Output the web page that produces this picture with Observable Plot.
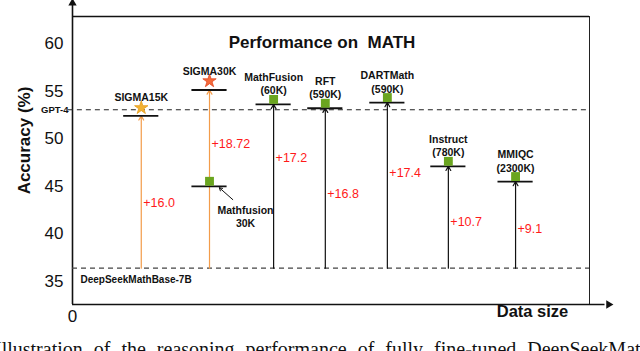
<!DOCTYPE html>
<html>
<head>
<meta charset="utf-8">
<script src="https://cdn.jsdelivr.net/npm/d3@7"></script>
<script src="https://cdn.jsdelivr.net/npm/@observablehq/plot@0.6"></script>
<style>
  html, body { margin: 0; padding: 0; background: #fff; overflow: hidden; }
  #chart { width: 640px; height: 351px; overflow: hidden; }
</style>
</head>
<body>
<div id="chart"></div>
<script>
// ---- data ----
const categories = ["SIGMA15K", "SIGMA30K", "Mathfusion\n30K", "MathFusion\n(60K)", "RFT\n(590K)", "DARTMath\n(590K)", "Instruct\n(780K)", "MMIQC\n(2300K)"];
const dataSizeSlot = [1.33, 2.65, 2.65, 3.89, 4.89, 6.09, 7.27, 8.57];
const accuracy = [52.4, 55.12, 45.0, 53.6, 53.2, 53.8, 47.1, 45.5];
const marker = ["star15", "star30", "square", "square", "square", "square", "square", "square"];
const gainLabels = ["+16.0", "+18.72", null, "+17.2", "+16.8", "+17.4", "+10.7", "+9.1"];
const gainLabelAt = [43.2, 49.4, null, 48.0, 44.2, 46.4, 41.2, 40.5];
const baseAccuracy = 36.4;
const gpt4Accuracy = 53.05;
const yTicks = [35, 40, 45, 50, 55, 60];
const xTicks = [0];
const titleText = "Performance on  MATH";
const captionText = "Illustration of the reasoning performance of fully fine-tuned DeepSeekMath";

const rows = categories.map((c, i) => ({
  name: c, slot: dataSizeSlot[i], acc: accuracy[i], marker: marker[i],
  gain: gainLabels[i], gainAt: gainLabelAt[i]
}));

const Y0 = 32.58, Y1 = 62.84, X0 = 0, X1 = 10;
const HALF = 0.34;
const FONT = "'Liberation Sans', Arial, Helvetica, sans-serif";
const ORANGE = "#f39c4a";
const GREEN = "#6aa51f";

const isMf30 = d => d.name.indexOf("Mathfusion") === 0;
const sigma = d => d.marker.startsWith("star");
const withLine = rows.filter(d => !isMf30(d));

const plot = Plot.plot({
  width: 640,
  height: 351,
  marginLeft: 72,
  marginRight: 51,
  marginTop: 16,
  marginBottom: 47,
  style: { fontFamily: FONT, background: "white", overflow: "visible" },
  x: { domain: [X0, X1], axis: null },
  y: { domain: [Y0, Y1], axis: null },
  marks: [
    // frame & axes
    Plot.ruleY([Y1], { x1: X0, x2: X1, stroke: "#111", strokeWidth: 1.6 }),
    Plot.ruleX([X1], { y1: Y0, y2: Y1, stroke: "#222", strokeWidth: 1 }),
    Plot.ruleY([Y0], { x1: X0, x2: 10.3, stroke: "#111", strokeWidth: 1.6 }),
    Plot.ruleX([X0], { y1: Y0, y2: 64.2, stroke: "#111", strokeWidth: 1.6 }),
    Plot.dot([{ x: X0, y: 64.25 }], { x: "x", y: "y", symbol: "triangle", r: 3.1, fill: "#111", stroke: null }),
    Plot.dot([{ x: 10.37, y: Y0 }], { x: "x", y: "y", symbol: "triangle", r: 3.1, fill: "#111", stroke: null, rotate: 90 }),
    Plot.axisY(yTicks, { tickSize: 0, tickPadding: 9, fontSize: 17, label: null, fill: "#111" }),
    Plot.axisX(xTicks, { tickSize: 0, tickPadding: 5, fontSize: 17, label: null, fill: "#111" }),
    Plot.text(["Accuracy (%)"], { frameAnchor: "left", dx: -48, dy: -20, rotate: -90, textAnchor: "middle", fontSize: 17, fontWeight: "bold", fill: "#111" }),
    Plot.text(["Data size"], { frameAnchor: "bottom-right", dx: -57, dy: 12, textAnchor: "middle", fontSize: 16.5, fontWeight: "bold", fill: "#111" }),
    Plot.text([titleText], { frameAnchor: "top", dx: -9, dy: 19, textAnchor: "middle", fontSize: 17, fontWeight: "bold", fill: "#111" }),

    // reference lines
    Plot.ruleY([baseAccuracy], { x1: X0, x2: X1, stroke: "#444", strokeWidth: 1.1, strokeDasharray: "5,4" }),
    Plot.ruleY([gpt4Accuracy], { x1: -0.08, x2: X1, stroke: "#222", strokeWidth: 1.1, strokeDasharray: "5,4" }),
    Plot.text(["GPT-4"], { x: X0, y: gpt4Accuracy, dx: -4, textAnchor: "end", fontSize: 9.5, fontWeight: "bold", fill: "#111" }),
    Plot.text(["DeepSeekMathBase-7B"], { x: X0, y: baseAccuracy, dx: 8, dy: 12, textAnchor: "start", fontSize: 10, fontWeight: "bold", fill: "#111" }),

    // gain arrows
    Plot.arrow(withLine, {
      x1: "slot", x2: "slot", y1: () => baseAccuracy, y2: "acc",
      stroke: d => sigma(d) ? ORANGE : "#111", strokeWidth: 1.2, headLength: 6
    }),

    // level bars
    Plot.ruleY(rows, { y: "acc", x1: d => d.slot - HALF, x2: d => d.slot + HALF, stroke: "#111", strokeWidth: 1.8 }),

    // markers
    Plot.dot(rows.filter(d => d.marker === "square"), { x: "slot", y: "acc", dy: -5, symbol: "square", r: 5, fill: GREEN, stroke: null }),
    Plot.dot(rows.filter(d => d.marker === "star15"), { x: "slot", y: "acc", dy: -8, symbol: "star", r: 4.2, fill: "#f2b233", stroke: "#e39b1c", strokeWidth: 0.8 }),
    Plot.dot(rows.filter(d => d.marker === "star30"), { x: "slot", y: "acc", dy: -9, symbol: "star", r: 4.2, fill: "#f36b3c", stroke: "#e4461f", strokeWidth: 0.8 }),

    // name labels
    Plot.text(rows.filter(sigma), { x: "slot", y: "acc", text: "name", dy: -15, lineAnchor: "bottom", fontSize: 10.5, fontWeight: "bold", fill: "#111" }),
    Plot.text(rows.filter(d => !sigma(d) && !isMf30(d)), { x: "slot", y: "acc", text: "name", dy: -10, lineAnchor: "bottom", fontSize: 10.5, fontWeight: "bold", fill: "#111", lineHeight: 1.25 }),
    Plot.text(rows.filter(isMf30), { x: "slot", y: "acc", text: "name", dx: 36, dy: 30, fontSize: 10.5, fontWeight: "bold", fill: "#111", lineHeight: 1.2 }),
    Plot.arrow(rows.filter(isMf30), {
      x1: d => d.slot + 0.45, y1: d => d.acc - 1.4, x2: d => d.slot + 0.19, y2: d => d.acc - 0.15,
      stroke: "#111", strokeWidth: 1, headLength: 5
    }),

    // gain values
    Plot.text(rows.filter(d => d.gain), { x: "slot", y: "gainAt", text: "gain", dx: 2, textAnchor: "start", fontSize: 12.5, fill: "#ff1a1a" })
  ]
});

d3.select(plot).append("text")
  .attr("x", -5).attr("y", 356)
  .attr("text-anchor", "start")
  .attr("font-family", "'Liberation Serif', 'Times New Roman', serif")
  .attr("font-size", 20)
  .attr("word-spacing", 6)
  .attr("fill", "#111")
  .text(captionText);

document.getElementById("chart").appendChild(plot);
</script>
</body>
</html>
